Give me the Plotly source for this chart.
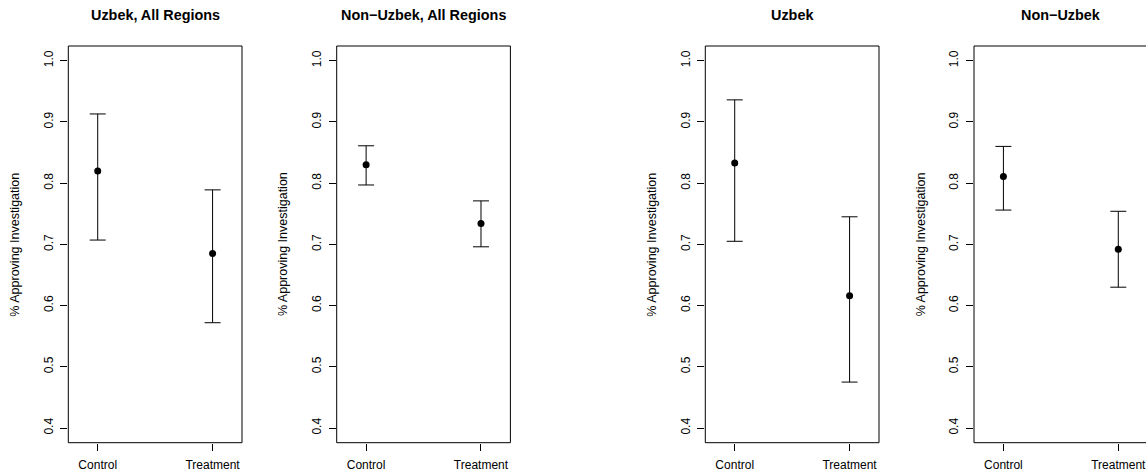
import plotly.graph_objects as go

# ---- data ----
panel_titles = ["Uzbek, All Regions", "Non\u2212Uzbek, All Regions", "Uzbek", "Non\u2212Uzbek"]
conditions = ["Control", "Treatment"]
means_p1 = [0.820, 0.685]
means_p2 = [0.830, 0.734]
means_p3 = [0.833, 0.616]
means_p4 = [0.811, 0.692]
upper_p1 = [0.913, 0.789]
upper_p2 = [0.861, 0.771]
upper_p3 = [0.936, 0.745]
upper_p4 = [0.860, 0.754]
lower_p1 = [0.707, 0.572]
lower_p2 = [0.797, 0.696]
lower_p3 = [0.705, 0.475]
lower_p4 = [0.756, 0.630]
y_ticks = [0.4, 0.5, 0.6, 0.7, 0.8, 0.9, 1.0]
y_title = "% Approving Investigation"

means = [means_p1, means_p2, means_p3, means_p4]
uppers = [upper_p1, upper_p2, upper_p3, upper_p4]
lowers = [lower_p1, lower_p2, lower_p3, lower_p4]

# ---- layout geometry (pixels) ----
W, H = 1146, 476
panel_left = [68.3, 336.7, 705.3, 974.0]
panel_w = 173.7
top_px, bottom_px = 46.0, 442.7
x_range = [0.744, 2.256]
y_range = [0.376, 1.024]
FONT = "Liberation Sans, Arial, Helvetica, sans-serif"


def px(x):
    return x / W


def py(y):
    return 1 - y / H


fig = go.Figure()
shapes = []
annotations = []
yd = [py(bottom_px), py(top_px)]

for i in range(4):
    n = "" if i == 0 else str(i + 1)
    l = panel_left[i]
    r = min(l + panel_w, W)
    frac = (r - l) / panel_w
    xr = [x_range[0], x_range[0] + (x_range[1] - x_range[0]) * frac]
    m = means[i]
    up = [u - v for u, v in zip(uppers[i], m)]
    dn = [v - lo for v, lo in zip(m, lowers[i])]
    fig.add_trace(go.Scatter(
        x=[1, 2], y=m, mode="markers",
        marker=dict(color="black", size=7),
        error_y=dict(type="data", symmetric=False, array=up, arrayminus=dn,
                     color="black", thickness=1, width=8),
        xaxis="x" + n, yaxis="y" + n, showlegend=False, hoverinfo="skip",
        cliponaxis=False,
    ))
    fig.layout["xaxis" + n] = dict(
        domain=[px(l), px(r)], range=xr, anchor="y" + n, automargin=False,
        tickvals=[1, 2], ticktext=conditions, ticks="outside", ticklen=7,
        tickcolor="black", tickwidth=1, showgrid=False, zeroline=False,
        showline=False, tickfont=dict(family=FONT, size=12, color="black"),
        ticklabelstandoff=4, ticklabeloverflow="allow", fixedrange=True,
    )
    fig.layout["yaxis" + n] = dict(
        domain=yd, range=y_range, anchor="x" + n, automargin=False,
        tickvals=y_ticks, ticktext=["%.1f" % t for t in y_ticks],
        tickangle=-90, ticks="outside", ticklen=7, tickcolor="black", tickwidth=1,
        showgrid=False, zeroline=False, showline=False,
        tickfont=dict(family=FONT, size=12, color="black"),
        ticklabelstandoff=3, ticklabeloverflow="allow", fixedrange=True,
    )
    shapes.append(dict(type="rect", xref="paper", yref="paper",
                       x0=px(l), x1=px(l + panel_w), y0=yd[0], y1=yd[1],
                       line=dict(color="black", width=1), layer="above"))
    annotations.append(dict(text="<b>" + panel_titles[i] + "</b>", xref="paper", yref="paper",
                            x=px(l + panel_w / 2), y=py(15), showarrow=False,
                            xanchor="center", yanchor="middle",
                            font=dict(family=FONT, size=14.4, color="black")))
    annotations.append(dict(text=y_title, xref="paper", yref="paper",
                            x=px(l - 53), y=(yd[0] + yd[1]) / 2, textangle=-90,
                            showarrow=False, xanchor="center", yanchor="middle",
                            font=dict(family=FONT, size=12.5, color="black")))

fig.update_layout(
    width=W, height=H, margin=dict(l=0, r=0, t=0, b=0, autoexpand=False),
    paper_bgcolor="white", plot_bgcolor="white",
    shapes=shapes, annotations=annotations,
)
# remove the browser's default page margin so the figure sits at the window origin
fig.write_html("out.html",
               config={"displayModeBar": False, "staticPlot": True},
               post_script="document.body.style.margin='0';document.body.style.overflow='hidden';")
